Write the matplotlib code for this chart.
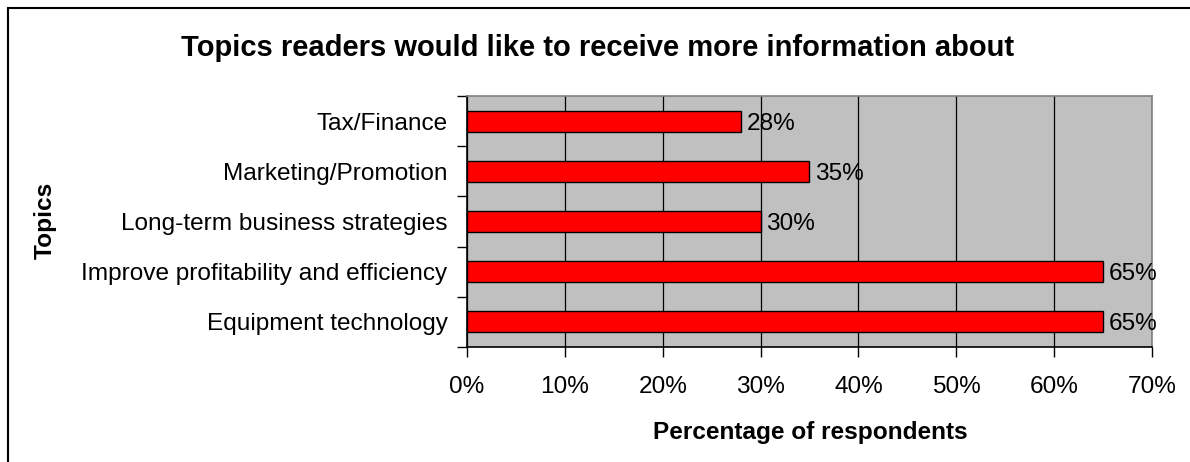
import matplotlib.pyplot as plt
from matplotlib.patches import Rectangle
from matplotlib.ticker import FuncFormatter, MultipleLocator

plt.rcParams['font.family'] = ['Liberation Sans', 'DejaVu Sans']

# Topics listed bottom to top
topics = ['Equipment technology', 'Improve profitability and efficiency',
          'Long-term business strategies', 'Marketing/Promotion', 'Tax/Finance']
percent = [65, 65, 30, 35, 28]

fs = 17.6

fig = plt.figure(figsize=(11.9, 4.62), dpi=100)
ax = fig.add_axes([467 / 1190, 1 - 347 / 462, 685 / 1190, 251 / 462])

# outer chart border (only left and top edges fall inside the image)
fig.patches.append(Rectangle((8 / 1190, -0.1), 1.2, 1 - 8 / 462 + 0.1,
                             transform=fig.transFigure, fill=False,
                             edgecolor='black', linewidth=1.5, zorder=0))

ax.set_facecolor('#c0c0c0')
ypos = range(len(topics))
ax.barh(ypos, percent, height=0.42, color='#ff0000', edgecolor='black',
        linewidth=1.0, zorder=3)
for y, v in zip(ypos, percent):
    ax.text(v + 0.6, y, f'{v}%', va='center_baseline', ha='left', fontsize=fs, zorder=4)

ax.set_xlim(0, 70)
ax.set_ylim(-0.5, len(topics) - 0.5)
ax.xaxis.set_major_locator(MultipleLocator(10))
ax.xaxis.set_major_formatter(FuncFormatter(lambda x, _: f'{x:.0f}%'))
ax.grid(axis='x', color='black', linewidth=0.9, zorder=1)

ax.set_yticks(list(ypos))
ax.set_yticklabels(topics, fontsize=fs)
ax.tick_params(axis='y', length=0, pad=14)
ax.set_yticks([y - 0.5 for y in range(len(topics) + 1)], minor=True)
ax.tick_params(axis='y', which='minor', length=7, width=1, direction='out')
ax.tick_params(axis='x', length=7, width=1, direction='out', labelsize=fs, pad=14)

for side in ('left', 'bottom'):
    ax.spines[side].set_color('black')
    ax.spines[side].set_linewidth(1.2)
for side in ('top', 'right'):
    ax.spines[side].set_color('#808080')
    ax.spines[side].set_linewidth(1.2)

fig.text(810 / 1190, 1 - 433 / 462, 'Percentage of respondents', fontsize=fs,
         fontweight='bold', ha='center', va='center')
fig.text(45 / 1190, 1 - 220 / 462, 'Topics', rotation=90, fontsize=fs,
         fontweight='bold', ha='center', va='center')
fig.text(598 / 1190, 1 - 48 / 462,
         'Topics readers would like to receive more information about',
         fontsize=21, fontweight='bold', ha='center', va='center')

fig.savefig('out.png', dpi=100)
